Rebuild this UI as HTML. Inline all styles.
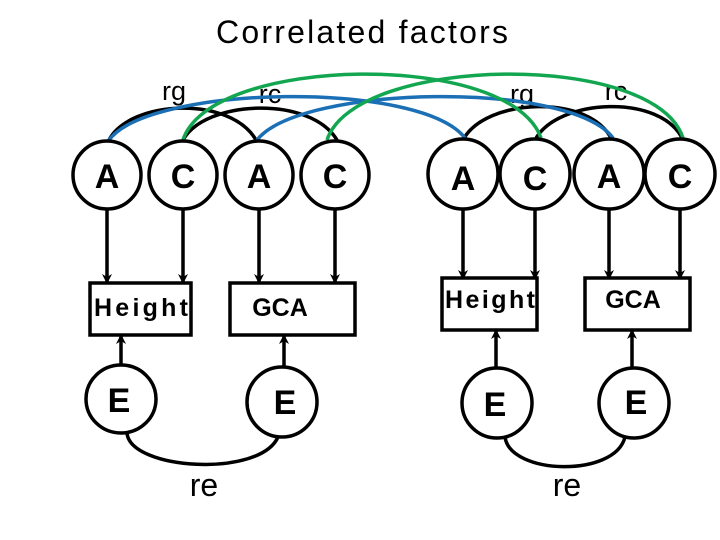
<!DOCTYPE html>
<html><head><meta charset="utf-8"><style>
html,body{margin:0;padding:0;background:#fff;}
svg{display:block;}
text{font-family:"Liberation Sans",Arial,sans-serif;}
</style></head><body>
<svg width="720" height="540" viewBox="0 0 720 540" xmlns="http://www.w3.org/2000/svg">
<defs>
<marker id="ah" markerWidth="10" markerHeight="10" refX="8" refY="5" orient="auto" markerUnits="userSpaceOnUse">
<path d="M0,0 L10,5 L0,10 L3,5 z" fill="#000"/>
</marker>
</defs>
<rect width="720" height="540" fill="#fff"/>
<text x="362" y="43" font-size="32" text-anchor="middle" textLength="292" style="font-family:'Liberation Sans',sans-serif">Correlated factors</text>

<!-- labels -->
<g font-size="27" text-anchor="middle">
<text x="174" y="100">rg</text>
<text x="270" y="103">rc</text>
<text x="522" y="103">rg</text>
<text x="616" y="100">rc</text>
</g>

<!-- black arcs -->
<g fill="none" stroke="#000" stroke-width="3.5">
<path d="M109,140 C130,100 230,95 256,140"/>
<path d="M183,140 C205,100 310,95 337,140"/>
<path d="M463,140 C485,98 590,93 612,140"/>
<path d="M535,140 C557,98 662,93 683,140"/>
</g>
<!-- blue arcs -->
<g fill="none" stroke="#1a6fb5" stroke-width="3.5">
<path d="M109,140 C150,85 420,80 465,138"/>
<path d="M257,140 C300,85 570,80 613,138"/>
</g>
<!-- green arcs -->
<g fill="none" stroke="#13a650" stroke-width="3.5">
<path d="M183,140 C210,55 510,50 541,138"/>
<path d="M327,140 C355,55 655,50 683,138"/>
</g>

<!-- circles -->
<g fill="#fff" stroke="#000" stroke-width="3.5">
<circle cx="107" cy="175" r="34"/>
<circle cx="183" cy="175" r="34"/>
<circle cx="259" cy="175" r="34"/>
<circle cx="335" cy="175" r="34"/>
<circle cx="463" cy="174" r="35"/>
<circle cx="535" cy="174" r="35"/>
<circle cx="609" cy="174" r="35"/>
<circle cx="680" cy="174" r="35"/>
</g>
<g font-size="34" font-weight="bold" text-anchor="middle">
<text x="107" y="188">A</text>
<text x="183" y="188">C</text>
<text x="259" y="188">A</text>
<text x="335" y="188">C</text>
<text x="463" y="190">A</text>
<text x="535" y="190">C</text>
<text x="609" y="188">A</text>
<text x="680" y="188">C</text>
</g>

<!-- down arrows -->
<g stroke="#000" stroke-width="3.5" marker-end="url(#ah)">
<line x1="107" y1="209" x2="107" y2="282"/>
<line x1="183" y1="209" x2="183" y2="282"/>
<line x1="259" y1="209" x2="259" y2="282"/>
<line x1="335" y1="209" x2="335" y2="282"/>
<line x1="463" y1="209" x2="463" y2="278"/>
<line x1="535" y1="209" x2="535" y2="278"/>
<line x1="609" y1="209" x2="609" y2="278"/>
<line x1="680" y1="209" x2="680" y2="278"/>
</g>

<!-- boxes -->
<g fill="#fff" stroke="#000" stroke-width="3.5">
<rect x="90" y="283" width="101" height="52"/>
<rect x="230" y="283" width="125" height="52"/>
<rect x="442" y="278" width="95" height="52"/>
<rect x="585" y="278" width="105" height="52"/>
</g>
<g font-size="25" font-weight="bold" text-anchor="middle">
<text x="141" y="316" textLength="94">Height</text>
<text x="280" y="316">GCA</text>
<text x="490" y="308" textLength="90">Height</text>
<text x="633" y="308">GCA</text>
</g>

<!-- up arrows from E -->
<g stroke="#000" stroke-width="3.5" marker-end="url(#ah)">
<line x1="121" y1="365" x2="121" y2="336"/>
<line x1="284" y1="367" x2="284" y2="336"/>
<line x1="496" y1="368" x2="496" y2="331"/>
<line x1="632" y1="368" x2="632" y2="331"/>
</g>

<!-- E circles -->
<g fill="#fff" stroke="#000" stroke-width="3.5">
<ellipse cx="121" cy="399" rx="35" ry="34"/>
<ellipse cx="282" cy="402" rx="35" ry="35"/>
<ellipse cx="497" cy="403" rx="35" ry="35"/>
<ellipse cx="634" cy="403" rx="35" ry="35"/>
</g>
<g font-size="34" font-weight="bold" text-anchor="middle">
<text x="119" y="412">E</text>
<text x="285" y="414">E</text>
<text x="495" y="416">E</text>
<text x="636" y="414">E</text>
</g>

<!-- re arcs -->
<g fill="none" stroke="#000" stroke-width="3.5">
<path d="M127,433 C130,470 260,478 278,437"/>
<path d="M505,437 C510,475 615,478 625,437"/>
</g>
<g font-size="32" text-anchor="middle">
<text x="204" y="496">re</text>
<text x="567" y="496">re</text>
</g>
</svg>
</body></html>
